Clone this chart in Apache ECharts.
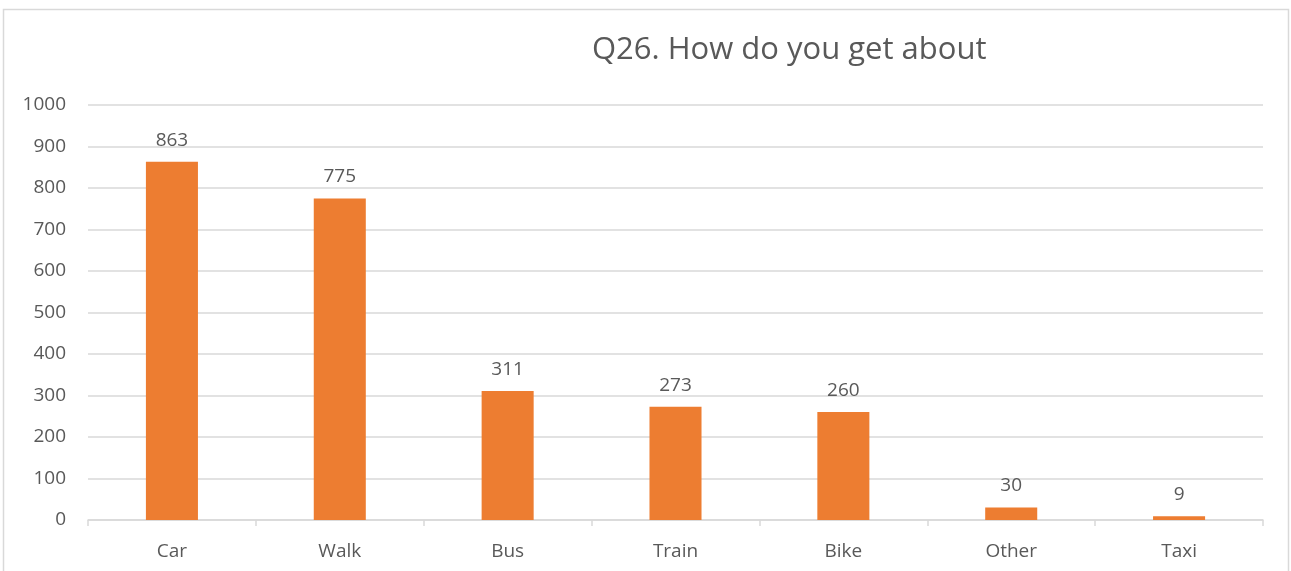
<!DOCTYPE html>
<html>
<head>
<meta charset="utf-8">
<script src="https://cdn.jsdelivr.net/npm/echarts@6/dist/echarts.min.js"></script>
<style>
  html, body { margin: 0; padding: 0; background: #fff; }
  #chart { width: 1291px; height: 571px; }
</style>
</head>
<body>
<div id="chart"></div>
<script>
  // chart data
  var categories = ['Car', 'Walk', 'Bus', 'Train', 'Bike', 'Other', 'Taxi'];
  var counts = [863, 775, 311, 273, 260, 30, 9];
  var titleText = 'Q26. How do you get about';

  var font = '"Open Sans", "Noto Sans", sans-serif';
  var textColor = '#595959';
  var lineColor = '#d9d9d9';

  var myChart = echarts.init(document.getElementById('chart'));
  var option = {
    backgroundColor: '#ffffff',
    animation: false,
    title: {
      text: titleText,
      left: 587,
      top: 30,
      textStyle: {
        color: textColor,
        fontFamily: font,
        fontSize: 31,
        fontWeight: 'normal'
      }
    },
    graphic: [{
      type: 'rect',
      shape: { x: 3.5, y: 9.5, width: 1285, height: 620 },
      style: { fill: 'none', stroke: lineColor, lineWidth: 1.5 },
      silent: true
    }],
    grid: {
      left: 88,
      right: 28,
      top: 105,
      bottom: 51
    },
    xAxis: {
      type: 'category',
      data: categories,
      axisLine: { lineStyle: { color: lineColor, width: 1.5 } },
      axisTick: { show: true, length: 6, alignWithLabel: false, lineStyle: { color: lineColor, width: 1.5 } },
      axisLabel: {
        color: textColor,
        fontFamily: font,
        fontSize: 19,
        margin: 22
      }
    },
    yAxis: {
      type: 'value',
      min: 0,
      max: 1000,
      interval: 100,
      axisLine: { show: false },
      axisTick: { show: false },
      axisLabel: {
        color: textColor,
        fontFamily: font,
        fontSize: 19,
        margin: 22,
        formatter: function (v) { return String(v); }
      },
      splitLine: { lineStyle: { color: lineColor, width: 1.5 } }
    },
    series: [{
      type: 'bar',
      data: counts,
      barWidth: '31%',
      itemStyle: { color: '#ed7d31' },
      label: {
        show: true,
        position: 'top',
        distance: 12,
        color: textColor,
        fontFamily: font,
        fontSize: 19
      }
    }]
  };
  myChart.setOption(option);
</script>
</body>
</html>
